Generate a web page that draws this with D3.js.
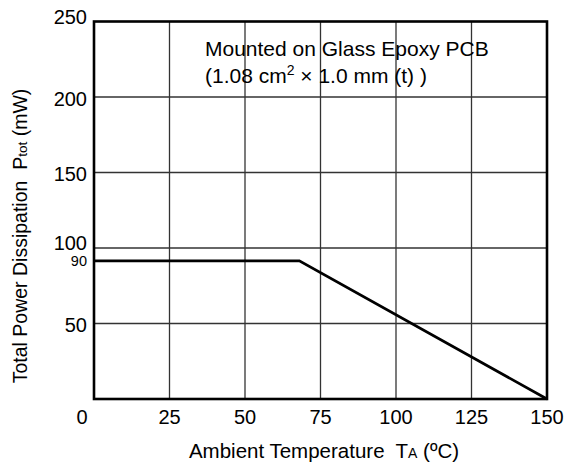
<!DOCTYPE html>
<html><head><meta charset="utf-8">
<script src="https://cdn.jsdelivr.net/npm/d3@7/dist/d3.min.js"></script>
<style>body{margin:0;background:#fff}svg{display:block}text{white-space:pre}</style>
</head><body>
<script>
const tempValues = [0, 68, 150];
const powerValues = [91.5, 91.5, 0];
const xTicks = [0, 25, 50, 75, 100, 125, 150];
const yTicks = [50, 100, 150, 200, 250];
const yExtraTick = [90];
const xLabel = "Ambient Temperature  T";
const yLabel = "Total Power Dissipation  P";
const noteLine1 = "Mounted on Glass Epoxy PCB";

const W = 568, H = 468;
const m = {left: 94, right: 547, top: 21.5, bottom: 399};
const font = "'Liberation Sans', Arial, Helvetica, sans-serif";
const svg = d3.select("body").append("svg").attr("width", W).attr("height", H)
  .style("font-family", font);

const x = d3.scaleLinear().domain([0, 150]).range([m.left, m.right]);
const y = d3.scaleLinear().domain([0, 250]).range([m.bottom, m.top]);

// grid
svg.append("g").selectAll("line").data(xTicks.slice(1, -1)).join("line")
  .attr("x1", d => x(d)).attr("x2", d => x(d)).attr("y1", m.top).attr("y2", m.bottom)
  .attr("stroke", "#333").attr("stroke-width", 1.3);
svg.append("g").selectAll("line").data(yTicks.slice(0, -1)).join("line")
  .attr("x1", m.left).attr("x2", m.right).attr("y1", d => y(d)).attr("y2", d => y(d))
  .attr("stroke", "#333").attr("stroke-width", 1.3);

// curve
const pts = tempValues.map((t, i) => [t, powerValues[i]]);
svg.append("path").datum(pts)
  .attr("d", d3.line().x(d => x(d[0])).y(d => y(d[1])))
  .attr("fill", "none").attr("stroke", "#000").attr("stroke-width", 2.8)
  .attr("stroke-linejoin", "miter");

// frame
svg.append("rect").attr("x", m.left).attr("y", m.top)
  .attr("width", m.right - m.left).attr("height", m.bottom - m.top)
  .attr("fill", "none").attr("stroke", "#000").attr("stroke-width", 2.6);

// x tick labels
svg.append("g").selectAll("text").data(xTicks).join("text")
  .attr("x", d => x(d) + (d === 0 ? -12 : 0)).attr("y", 423.5)
  .attr("text-anchor", "middle").attr("font-size", 20).text(d => d);

// y tick labels
svg.append("g").selectAll("text").data(yTicks).join("text")
  .attr("x", 87).attr("y", d => y(d) + ((d === 250 || d === 100) ? 2 : 8.5))
  .attr("text-anchor", "end").attr("font-size", 20).text(d => d);
svg.append("g").selectAll("text").data(yExtraTick).join("text")
  .attr("x", 87).attr("y", d => y(d) + 3)
  .attr("text-anchor", "end").attr("font-size", 14.5).text(d => d);

// x label
const xl = svg.append("text").attr("x", 324).attr("y", 458)
  .attr("text-anchor", "middle").attr("font-size", 20.5);
xl.append("tspan").text(xLabel);
xl.append("tspan").attr("font-size", 14).text("A");
xl.append("tspan").text(" (ºC)");

// y label
const yl = svg.append("text").attr("transform", "translate(27,236) rotate(-90)")
  .attr("text-anchor", "middle").attr("font-size", 19.5);
yl.append("tspan").text(yLabel);
yl.append("tspan").attr("font-size", 13.5).text("tot");
yl.append("tspan").text(" (mW)");

// note
svg.append("text").attr("x", 205).attr("y", 56).attr("font-size", 21).text(noteLine1);
const n2 = svg.append("text").attr("x", 205).attr("y", 83).attr("font-size", 21);
n2.append("tspan").text("(1.08 cm");
n2.append("tspan").attr("font-size", 14).attr("dy", -8).text("2");
n2.append("tspan").attr("dy", 8).text(" × 1.0 mm (t) )");
</script>
</body></html>
